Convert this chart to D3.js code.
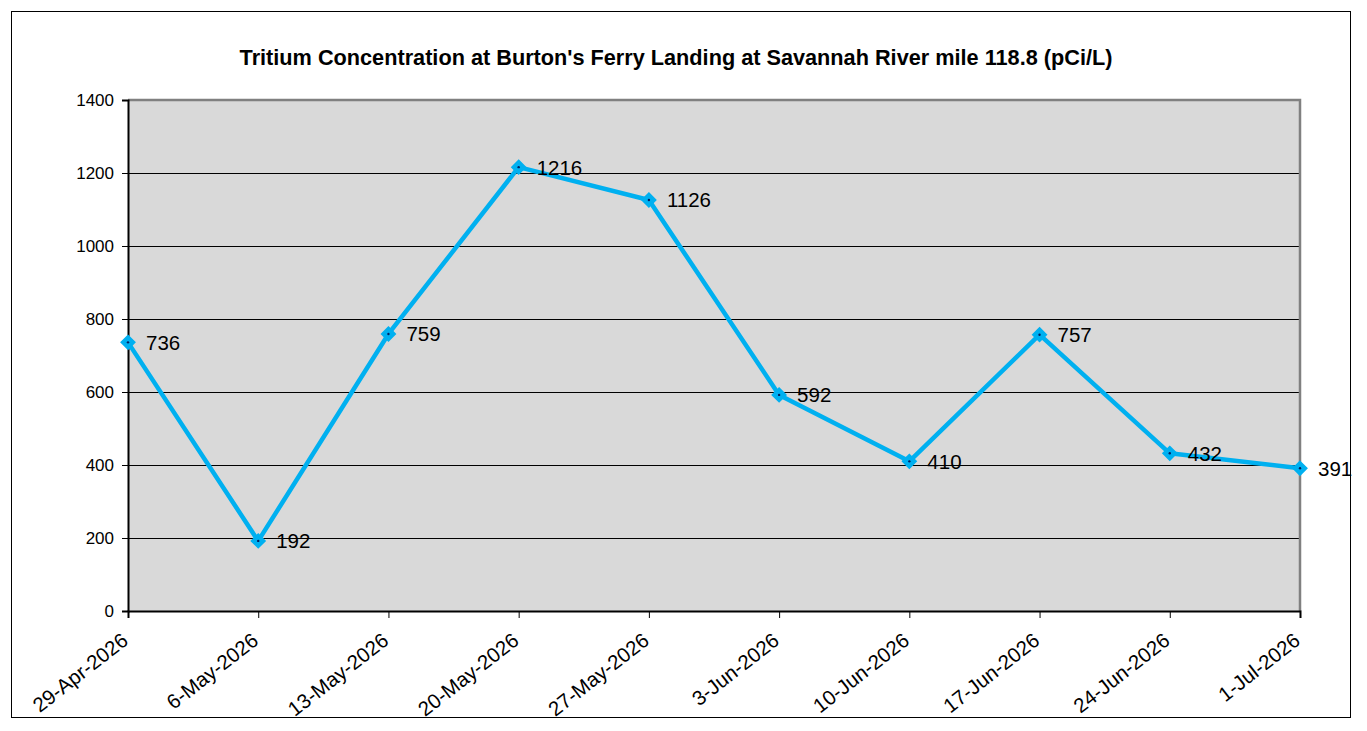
<!DOCTYPE html>
<html>
<head>
<meta charset="utf-8">
<script src="https://cdn.jsdelivr.net/npm/d3@7"></script>
<style>
  body { margin: 0; background: #fff; }
  svg { font-family: "Liberation Sans", Arial, sans-serif; }
</style>
</head>
<body>
<div id="chart"></div>
<script>
// data
const dates = ["29-Apr-2026", "6-May-2026", "13-May-2026", "20-May-2026", "27-May-2026",
               "3-Jun-2026", "10-Jun-2026", "17-Jun-2026", "24-Jun-2026", "1-Jul-2026"];
const tritium = [736, 192, 759, 1216, 1126, 592, 410, 757, 432, 391];
const yTicks = [0, 200, 400, 600, 800, 1000, 1200, 1400];

const W = 1367, H = 731;
const margin = {top: 100, right: 67, bottom: 120, left: 128},
    width = 1300 - margin.left,
    height = 611 - margin.top;

const svg = d3.select("#chart")
  .append("svg")
  .attr("width", W)
  .attr("height", H);

// outer frame
svg.append("rect")
  .attr("x", 11.5).attr("y", 11.5)
  .attr("width", 1339).attr("height", 706)
  .attr("fill", "#fff")
  .attr("stroke", "#000")
  .attr("stroke-width", 1);

// title
svg.append("text")
  .attr("x", 676)
  .attr("y", 65)
  .attr("text-anchor", "middle")
  .style("font-size", "21.7px")
  .style("font-weight", "bold")
  .text("Tritium Concentration at Burton's Ferry Landing at Savannah River mile 118.8 (pCi/L)");

const g = svg.append("g")
  .attr("transform", `translate(${margin.left},${margin.top})`);

const parse = d3.timeParse("%d-%b-%Y");
const data = dates.map((d, i) => ({date: parse(d), label: d, value: tritium[i]}));

const x = d3.scaleTime()
  .domain(d3.extent(data, d => d.date))
  .range([0, width]);

const y = d3.scaleLinear()
  .domain([0, 1400])
  .range([height, 0]);

// plot background
g.append("rect")
  .attr("width", width)
  .attr("height", height)
  .attr("fill", "#d9d9d9");

// grid lines
g.selectAll(".grid")
  .data(yTicks.slice(1, -1))
  .enter()
  .append("line")
  .attr("x1", 0).attr("x2", width)
  .attr("y1", d => Math.round(y(d)) + 0.5)
  .attr("y2", d => Math.round(y(d)) + 0.5)
  .attr("stroke", "#000")
  .attr("stroke-width", 1);

// grey top and right border
g.append("path")
  .attr("d", `M0,${y(1400)}H${width}V${height}`)
  .attr("fill", "none")
  .attr("stroke", "#808080")
  .attr("stroke-width", 2.5);

// y axis
const yAxis = g.append("g")
  .call(d3.axisLeft(y).tickValues(yTicks).tickSize(6).tickPadding(8).tickFormat(d3.format("d")));
yAxis.select(".domain").attr("stroke", "#000").attr("stroke-width", 2);
yAxis.selectAll("text").style("font-size", "17px").attr("fill", "#000");

// x axis
const xAxis = g.append("g")
  .attr("transform", `translate(0,${height})`)
  .call(d3.axisBottom(x).tickValues(data.map(d => d.date)).tickSize(7)
    .tickFormat((d, i) => dates[i]));
xAxis.select(".domain").attr("stroke", "#000").attr("stroke-width", 2);
xAxis.selectAll("text")
  .style("font-size", "20.5px")
  .attr("fill", "#000")
  .attr("text-anchor", "end")
  .attr("y", 0)
  .attr("dx", 0)
  .attr("dy", 0)
  .attr("transform", "translate(1,32) rotate(-38)");

// the line
g.append("path")
  .datum(data)
  .attr("fill", "none")
  .attr("stroke", "#00b0f0")
  .attr("stroke-width", 4.5)
  .attr("stroke-linejoin", "round")
  .attr("d", d3.line().x(d => x(d.date)).y(d => y(d.value)));

// diamond markers
g.selectAll(".marker")
  .data(data)
  .enter()
  .append("path")
  .attr("transform", d => `translate(${x(d.date)},${y(d.value)})`)
  .attr("d", d3.symbol().type(d3.symbolDiamond2).size(120))
  .attr("fill", "#00b0f0")
  .attr("stroke", "#00b0f0")
  .attr("stroke-width", 1.5);

g.selectAll(".dot")
  .data(data)
  .enter()
  .append("circle")
  .attr("cx", d => x(d.date))
  .attr("cy", d => y(d.value))
  .attr("r", 1.2)
  .attr("fill", "#002060");

// value labels
g.selectAll(".lbl")
  .data(data)
  .enter()
  .append("text")
  .attr("x", d => x(d.date) + 18)
  .attr("y", d => y(d.value))
  .attr("dy", "0.36em")
  .style("font-size", "20.5px")
  .attr("fill", "#000")
  .text(d => d.value);
</script>
</body>
</html>
